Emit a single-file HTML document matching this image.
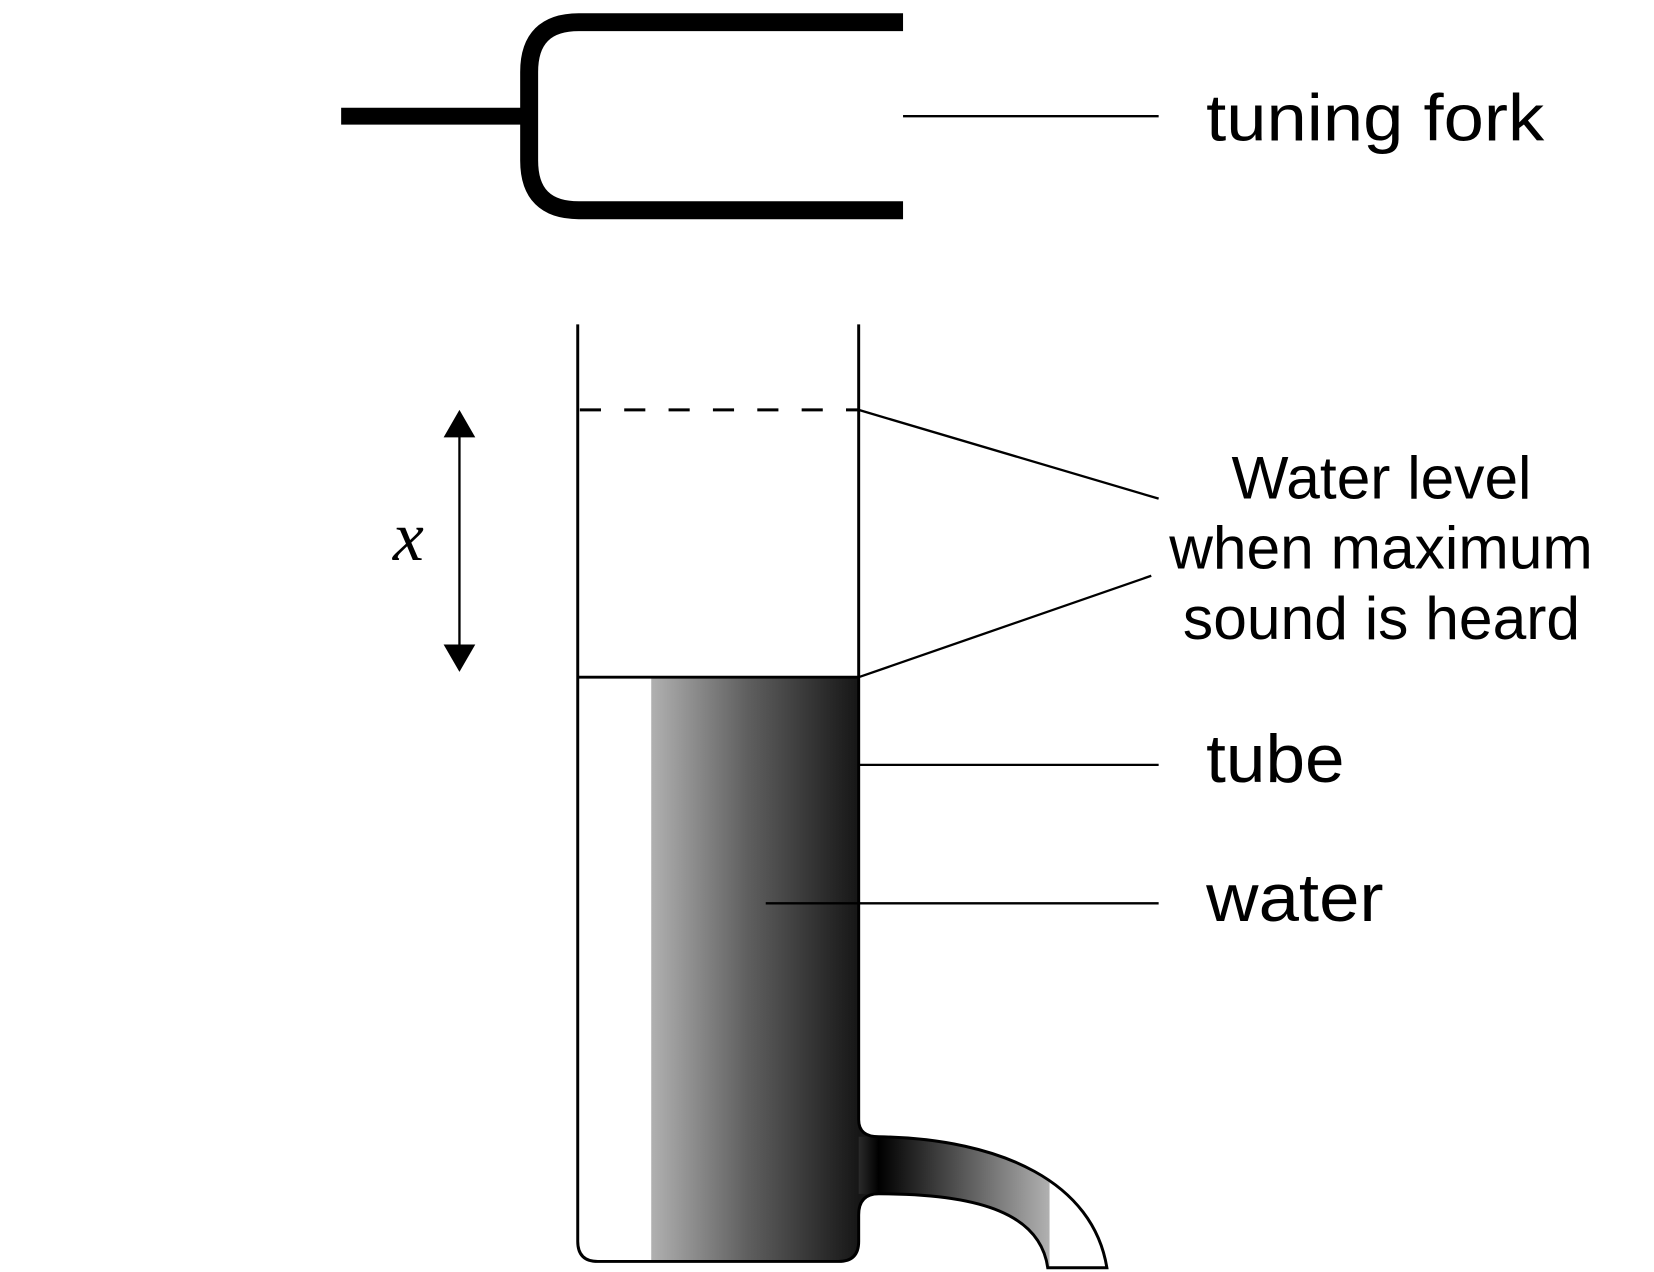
<!DOCTYPE html>
<html><head><meta charset="utf-8"><style>html,body{margin:0;padding:0;background:#fff}svg{display:block}</style></head>
<body>
<svg width="1654" height="1272" viewBox="0 0 1566 1204" preserveAspectRatio="none" xmlns="http://www.w3.org/2000/svg" font-family="Liberation Sans, sans-serif">
<defs>
<linearGradient id="wg" x1="547" y1="0" x2="813" y2="0" gradientUnits="userSpaceOnUse">
<stop offset="0" stop-color="#fff"/><stop offset="0.26" stop-color="#fff"/><stop offset="0.263" stop-color="#b0b0b0"/><stop offset="0.6" stop-color="#606060"/><stop offset="1" stop-color="#161616"/></linearGradient>
<linearGradient id="sg" x1="813" y1="0" x2="1050" y2="0" gradientUnits="userSpaceOnUse">
<stop offset="0" stop-color="#2a2a2a"/><stop offset="0.08" stop-color="#000"/><stop offset="0.76" stop-color="#b0b0b0"/><stop offset="0.765" stop-color="#fff"/><stop offset="1" stop-color="#fff"/></linearGradient>
</defs>
<g>
<line x1="323" y1="110" x2="505" y2="110" stroke="#000" stroke-width="16"/>
<path d="M855,21 H548 Q501,21 501,68 V152 Q501,199 548,199 H855" fill="none" stroke="#000" stroke-width="17"/>
</g>
<line x1="855" y1="110" x2="1097" y2="110" stroke="#000" stroke-width="2.2"/>
<text x="1142" y="133" font-size="62" textLength="320" lengthAdjust="spacingAndGlyphs">tuning fork</text>
<g>
<path d="M547,641 H813 V1060 Q813,1076 832,1076 C950,1078 1035,1120 1048,1200 H992 C985,1150 930,1130 832,1130 Q813,1130 813,1150 V1175 Q813,1194 794,1194 H566 Q547,1194 547,1175 Z" fill="url(#wg)"/>
<path d="M813,1076 H832 C950,1078 1035,1120 1048,1200 H992 C985,1150 930,1130 832,1130 H813 Z" fill="url(#sg)"/>
</g>
<path d="M547,307 V1175 Q547,1194 566,1194 H794 Q813,1194 813,1175 V1150 Q813,1130 832,1130 C930,1130 985,1150 992,1200 H1048 C1035,1120 950,1078 832,1076 Q813,1076 813,1060 V307" fill="none" stroke="#000" stroke-width="2.8"/>
<line x1="547" y1="641" x2="813" y2="641" stroke="#000" stroke-width="2.8"/>
<line x1="549" y1="388" x2="813" y2="388" stroke="#000" stroke-width="2.8" stroke-dasharray="20,22"/>
<g stroke="#000" stroke-width="2.2">
<line x1="813" y1="388" x2="1097" y2="472"/>
<line x1="813" y1="641" x2="1090" y2="545"/>
<line x1="813" y1="724" x2="1097" y2="724"/>
<line x1="725" y1="855" x2="1097" y2="855"/>
</g>
<g>
<line x1="435" y1="405" x2="435" y2="620" stroke="#000" stroke-width="2.2"/>
<polygon points="435,388 420,414 450,414" fill="#000"/>
<polygon points="435,636 420,610 450,610" fill="#000"/>
</g>
<text x="372" y="530" font-size="66" font-style="italic" font-family="Liberation Serif, serif">x</text>
<g font-size="57">
<text x="1166" y="472" textLength="284" lengthAdjust="spacingAndGlyphs">Water level</text>
<text x="1107" y="538" textLength="401" lengthAdjust="spacingAndGlyphs">when maximum</text>
<text x="1120" y="605" textLength="376" lengthAdjust="spacingAndGlyphs">sound is heard</text>
</g>
<text x="1142" y="740" font-size="64" textLength="131" lengthAdjust="spacingAndGlyphs">tube</text>
<text x="1142" y="872" font-size="64" textLength="168" lengthAdjust="spacingAndGlyphs">water</text>
</svg>
</body></html>
